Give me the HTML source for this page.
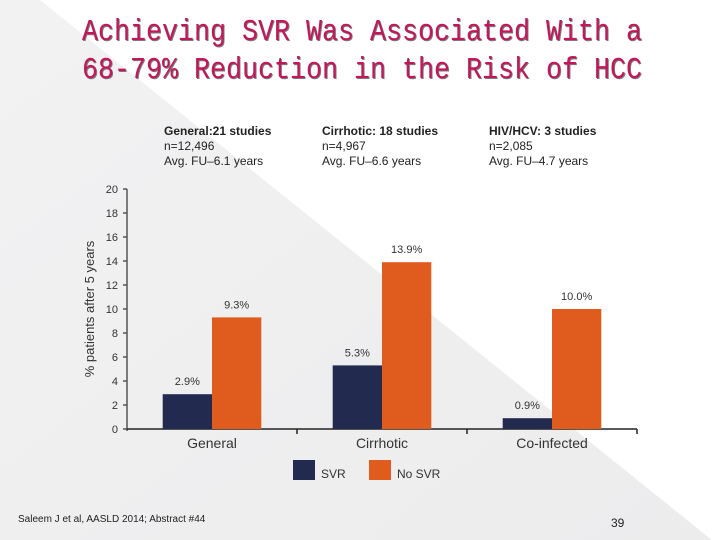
<!DOCTYPE html>
<html><head><meta charset="utf-8">
<style>
body{margin:0;width:720px;height:540px;overflow:hidden;background:#fff;font-family:"Liberation Sans",sans-serif;}
#wrap{position:relative;width:720px;height:540px;}
.title{position:absolute;left:82px;top:14px;font-family:"Liberation Mono",monospace;font-size:31px;line-height:38px;color:#c2185b;text-shadow:1px 1px 0 #7a7a7a;white-space:pre;transform:scaleX(0.86);transform-origin:0 0;}
.info{position:absolute;top:124px;font-size:12px;line-height:15px;color:#222;}
.foot{position:absolute;font-size:10px;color:#222;}
</style></head><body>
<div id="wrap">
<svg width="720" height="540" style="position:absolute;left:0;top:0">
<defs><linearGradient id="g" x1="0" y1="0" x2="1" y2="1"><stop offset="0" stop-color="#f2f2f3"/><stop offset="1" stop-color="#ececed"/></linearGradient></defs>
<polygon points="0,0 40,0 712,540 0,540" fill="url(#g)"/>
</svg>
<div class="title">Achieving SVR Was Associated With a
68-79% Reduction in the Risk of HCC</div>
<div class="info" style="left:164px"><b>General:21 studies</b><br>n=12,496<br>Avg. FU–6.1 years</div>
<div class="info" style="left:322px"><b>Cirrhotic: 18 studies</b><br>n=4,967<br>Avg. FU–6.6 years</div>
<div class="info" style="left:489px"><b>HIV/HCV: 3 studies</b><br>n=2,085<br>Avg. FU–4.7 years</div>
<svg id="chart" width="720" height="540" style="position:absolute;left:0;top:0"></svg>
<div class="foot" style="left:18px;top:514px">Saleem J et al, AASLD 2014; Abstract #44</div>
<div class="foot" style="left:611px;top:516px;font-size:12px">39</div>
</div>
<script>
const categories=["General","Cirrhotic","Co-infected"];
const svrValues=[2.9,5.3,0.9];
const noSvrValues=[9.3,13.9,10.0];
const svrLabels=["2.9%","5.3%","0.9%"];
const noSvrLabels=["9.3%","13.9%","10.0%"];
const yTicks=[0,2,4,6,8,10,12,14,16,18,20];
const NS="http://www.w3.org/2000/svg";
const svg=document.getElementById('chart');
const x0=127,x1=637,yB=429,yT=189,yMax=20;
const gw=(x1-x0)/categories.length;
function y(v){return yB-(v/yMax)*(yB-yT);}
function mk(t,a,txt){const e=document.createElementNS(NS,t);for(const k in a)e.setAttribute(k,a[k]);if(txt!=null)e.textContent=txt;svg.appendChild(e);return e;}
let e;
e=mk('line',{x1:x0,y1:yT,x2:x0,y2:yB+2,stroke:'#555','stroke-width':1.5});


e=mk('line',{x1:x0,y1:yB,x2:x1,y2:yB,stroke:'#222','stroke-width':1.5});


yTicks.forEach(t=>{
  e=mk('line',{x1:x0-4,y1:y(t),x2:x0,y2:y(t),stroke:'#555','stroke-width':1.5});
  
  
  e=mk('text',{x:x0-9,y:y(t)+4,'text-anchor':'end','font-size':11,fill:'#333','font-family':'Liberation Sans'},t);
  
  
});
e=mk('text',{x:0,y:0,transform:`translate(94,${(yB+yT)/2}) rotate(-90)`,'text-anchor':'middle','font-size':13,fill:'#333','font-family':'Liberation Sans'},'% patients after 5 years');


categories.forEach((c,i)=>{
  const gx=x0+i*gw;
  e=mk('line',{x1:gx+gw,y1:yB,x2:gx+gw,y2:yB+5,stroke:'#222','stroke-width':1.5});
  
  
  const bw=gw*0.29;
  const sx=gx+gw*0.21;
  e=mk('rect',{x:sx,y:y(svrValues[i]),width:bw,height:yB-y(svrValues[i]),fill:'#232a50'});
  
  
  e=mk('rect',{x:sx+bw,y:y(noSvrValues[i]),width:bw,height:yB-y(noSvrValues[i]),fill:'#e05c1e'});
  
  
  e=mk('text',{x:sx+bw/2,y:y(svrValues[i])-9,'text-anchor':'middle','font-size':11,fill:'#333','font-family':'Liberation Sans'},svrLabels[i]);
  
  
  e=mk('text',{x:sx+bw*1.5,y:y(noSvrValues[i])-9,'text-anchor':'middle','font-size':11,fill:'#333','font-family':'Liberation Sans'},noSvrLabels[i]);
  
  
  e=mk('text',{x:sx+bw,y:yB+19,'text-anchor':'middle','font-size':14,fill:'#333','font-family':'Liberation Sans'},c);
  
  
});
e=mk('rect',{x:293,y:460,width:22,height:20,fill:'#232a50'});


e=mk('text',{x:321,y:478,'font-size':12,fill:'#333','font-family':'Liberation Sans'},'SVR');


e=mk('rect',{x:369,y:460,width:22,height:20,fill:'#e05c1e'});


e=mk('text',{x:397,y:478,'font-size':12,fill:'#333','font-family':'Liberation Sans'},'No SVR');


</script>
</body></html>
